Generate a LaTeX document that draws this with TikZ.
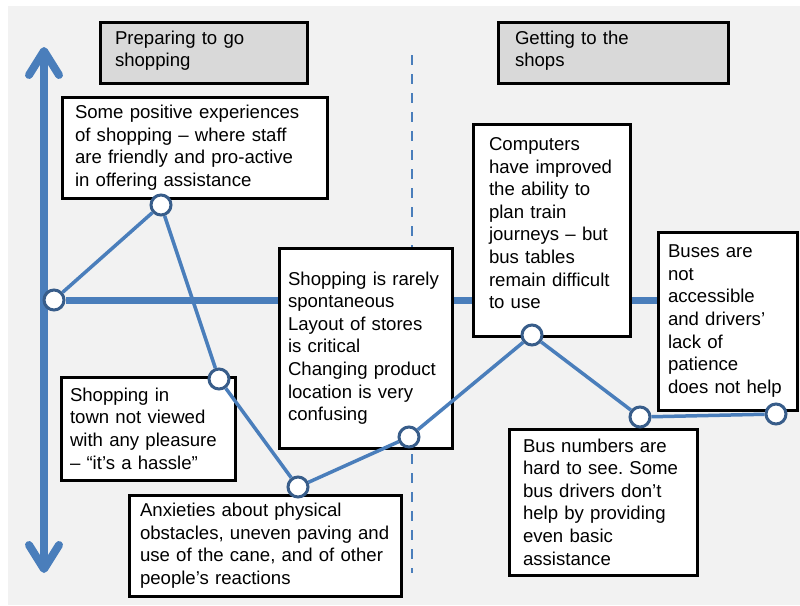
\documentclass[tikz,border=0pt]{standalone}
\usepackage{fontspec}
\setmainfont{Liberation Sans}
\usetikzlibrary{arrows.meta}
\definecolor{lineblue}{HTML}{4A7EBB}
\definecolor{ringblue}{HTML}{385D8A}
\definecolor{panelgray}{HTML}{F2F2F2}
\definecolor{headgray}{HTML}{D9D9D9}
\pgfdeclarelayer{background}
\pgfsetlayers{background,main}
\frenchspacing
\tikzset{
note/.style = {draw=black, line width=3pt, fill=white, inner sep=0pt,
               align=left, font=\fontsize{18.6}{22.6}\selectfont},
phase/.style = {note, fill=headgray, text depth=30pt},
ring/.style = {circle, draw=ringblue, line width=3pt, fill=white,
               minimum size=20pt, inner sep=0pt} % circle on the curve
}

\begin{document}
\begin{tikzpicture}[x=1pt, y=-1pt,
trend/.style={lineblue, line width=3.5pt},
spine/.style={lineblue, line width=7pt},
axis/.style={lineblue, line width=8pt,
  {Straight Barb[length=24pt,width=30pt,round]}-{Straight Barb[length=24pt,width=30pt,round]}},
phaseline/.style={lineblue, line width=2.5pt, dash pattern=on 10pt off 9pt}]
%
\useasboundingbox (0,0) rectangle (800,605);

% phase headings
\node[phase, minimum width=207pt, minimum height=61pt, text width=177pt] at (203.5,52.5) (prep) {Preparing to go\\shopping};
\node[phase, minimum width=230pt, minimum height=61pt, text width=196pt] at (613,52.5) (travel) {Getting to the\\shops};

% comments
\node[note, minimum width=265pt, minimum height=101pt, text width=239pt] at (194.5,147.5) (positive) {Some positive experiences\\of shopping – where staff\\are friendly and pro-active\\in offering assistance};
\node[note, minimum width=174pt, minimum height=103pt, text width=156pt] at (148,428.5) (hassle) {Shopping in\\town not viewed\\with any pleasure\\– “it’s a hassle”};
\node[note, minimum width=272pt, minimum height=101pt, text width=250pt] at (265,545.5) (anxiety) {Anxieties about physical\\obstacles, uneven paving and\\use of the cane, and of other\\people’s reactions};
\node[note, minimum width=173pt, minimum height=200pt, text width=155pt] at (365.5,348) (planning) {Shopping is rarely\\spontaneous\\Layout of stores\\is critical\\Changing product\\location is very\\confusing};
\node[note, minimum width=157pt, minimum height=212pt, text width=125pt, text depth=172pt] at (551.5,230) (computers) {Computers\\have improved\\the ability to\\plan train\\journeys – but\\bus tables\\remain difficult\\to use};
\node[note, minimum width=139pt, minimum height=178pt, text width=119pt] at (727.5,321) (buses) {Buses are\\not\\accessible\\and drivers’\\lack of\\patience\\does not help};
\node[note, minimum width=188pt, minimum height=146pt, text width=160pt] at (603,502) (numbers) {Bus numbers are\\hard to see. Some\\bus drivers don’t\\help by providing\\even basic\\assistance};

% experience curve
\node[ring] at (54,300) (p1) {};
\node[ring] at (161,205) (p2) {};
\node[ring] at (219,379) (p3) {};
\node[ring] at (298,487) (p4) {};
\node[ring] at (409,437) (p5) {};
\node[ring] at (532,335) (p6) {};
\node[ring] at (640,417) (p7) {};
\node[ring] at (776,414) (p8) {};

\draw[trend] (p1) -- (p2) -- (p3) -- (p4) -- (p5) -- (p6) -- (p7) -- (p8);

\coordinate (axistop) at (44,47);
\coordinate (axisbot) at (44,573);
\coordinate (phasetop) at (412,55);
\coordinate (phasebot) at (412,573);

\begin{pgfonlayer}{background}
\fill[panelgray] (8,6) rectangle (800,605);
\draw[axis] (axisbot) -- (axistop);
\draw[phaseline] (phasetop) -- (phasebot);
\draw[spine] (p1) -- (p1 -| buses.west);
\end{pgfonlayer}

\end{tikzpicture}
\end{document}
